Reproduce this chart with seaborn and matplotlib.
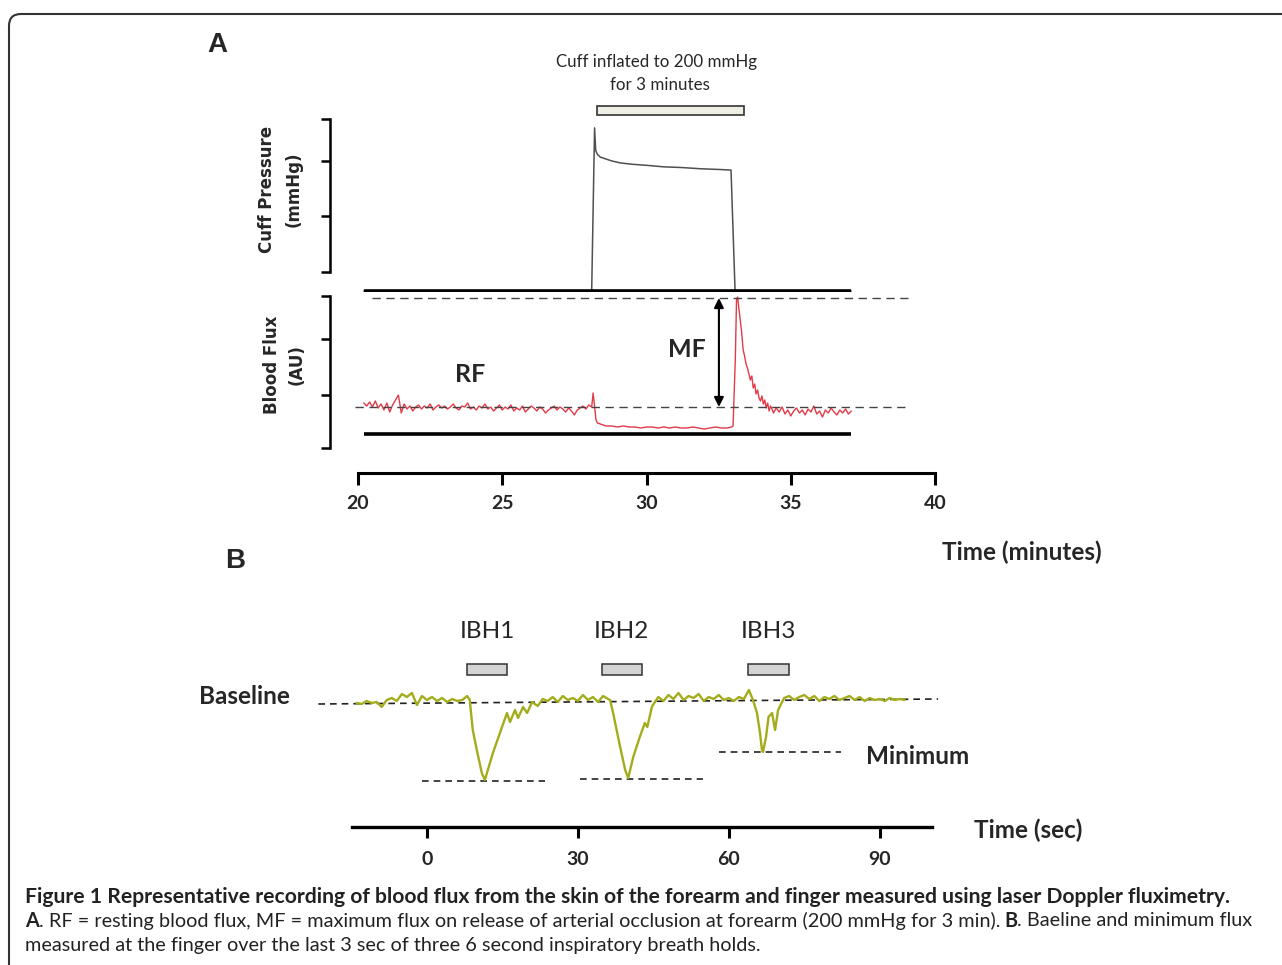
import numpy as np
import pandas as pd
import seaborn as sns
import matplotlib.pyplot as plt
from matplotlib.patches import FancyBboxPatch

# ---- panel A : cuff pressure (mmHg) ----
cuff_t = [20.2, 28.1, 28.2, 28.24, 28.3, 28.4, 28.6, 28.8, 29.1, 29.5,
          30.1, 30.6, 31.2, 31.9, 32.5, 32.93, 33.07, 37.1]
cuff_v = [0, 0, 251, 216, 210, 206, 203, 200, 197, 195,
          193, 191, 190, 188, 187, 186, 0, 0]
cuff_on, cuff_off = 28.28, 33.38

# ---- panel A : blood flux (AU) ----
rest_t = [20.2, 20.3, 20.4, 20.5, 20.6, 20.7, 20.8, 20.9, 21.0, 21.1,
          21.2, 21.3, 21.4, 21.5, 21.6, 21.7, 21.8, 21.9, 22.0, 22.1,
          22.2, 22.3, 22.4, 22.5, 22.6, 22.7, 22.8, 22.9, 23.0, 23.1,
          23.2, 23.3, 23.4, 23.5, 23.6, 23.7, 23.8, 23.9, 24.0, 24.1,
          24.2, 24.3, 24.4, 24.5, 24.6, 24.7, 24.8, 24.9, 25.0, 25.1,
          25.2, 25.3, 25.4, 25.5, 25.6, 25.7, 25.8, 25.9, 26.0, 26.1,
          26.2, 26.3, 26.4, 26.5, 26.6, 26.7, 26.8, 26.9, 27.0, 27.1,
          27.2, 27.3, 27.4, 27.5, 27.6, 27.7, 27.8, 27.9, 28.0, 28.1]
rest_v = [45, 42, 46, 41, 47, 40, 44, 38, 45, 36,
          43, 48, 53, 35, 44, 39, 42, 37, 41, 43,
          39, 42, 40, 44, 38, 41, 43, 40, 42, 39,
          41, 44, 40, 38, 42, 41, 45, 39, 41, 38,
          42, 40, 44, 39, 41, 37, 40, 43, 38, 41,
          39, 43, 37, 40, 38, 42, 36, 39, 42, 40,
          37, 41, 39, 35, 38, 40, 42, 38, 41, 39,
          36, 40, 37, 33, 38, 40, 42, 39, 43, 41]
occ_t = [28.15, 28.2, 28.25, 28.3, 28.4, 28.5, 28.6, 28.8, 29.0, 29.2,
         29.4, 29.6, 29.8, 30.0, 30.2, 30.4, 30.6, 30.8, 31.0, 31.2,
         31.4, 31.6, 31.8, 32.0, 32.2, 32.4, 32.6, 32.8, 32.95]
occ_v = [55, 42, 28, 25, 24, 23, 22, 22, 21, 22,
         21, 21, 20, 21, 21, 20, 21, 20, 21, 20,
         20, 21, 20, 19, 20, 21, 20, 20, 21]
hyp_t = [33.0, 33.08, 33.12, 33.16, 33.2, 33.25, 33.3, 33.35, 33.4, 33.45,
         33.5, 33.55, 33.6, 33.65, 33.7, 33.75, 33.8, 33.85, 33.9, 33.95,
         34.0, 34.05, 34.1, 34.15, 34.2, 34.25, 34.3, 34.35, 34.4, 34.5]
hyp_v = [22, 90, 148, 151, 140, 128, 115, 98, 92, 84,
         80, 74, 68, 72, 60, 64, 54, 58, 50, 47,
         52, 44, 48, 40, 45, 37, 42, 39, 35, 40]
rec_t = [34.6, 34.7, 34.8, 34.9, 35.0, 35.1, 35.2, 35.3, 35.4, 35.5,
         35.6, 35.7, 35.8, 35.9, 36.0, 36.1, 36.2, 36.3, 36.4, 36.5,
         36.6, 36.7, 36.8, 36.9, 37.0, 37.1]
rec_v = [36, 41, 34, 38, 32, 37, 40, 35, 38, 33,
         39, 36, 42, 34, 37, 31, 38, 35, 40, 36,
         33, 38, 35, 39, 34, 37]
rf_level, mf_level, floor_level = 41, 150, 14
rec_start, rec_end = 20.2, 37.1

# ---- panel B : finger flux (AU) ----
b_t = ([-14, -13, -12, -11, -10, -9, -8, -7, -6, -5, -4, -3, -2, -1, 0, 1, 2, 3, 4, 5, 6, 7, 8]
       + [8.5, 9.1, 9.9, 10.9, 11.5, 12.1, 13.1, 14.5, 15.9, 16.5, 17.5, 18.1, 19.1, 19.9, 20.9]
       + [22, 23, 24, 25, 26, 27, 28, 29, 30, 31, 32, 33, 34, 35, 36]
       + [36.4, 37, 37.7, 38.4, 39.4, 40, 41, 42.3, 43.3, 43.8, 44.7, 45.3]
       + [46, 47, 48, 49, 50, 51, 52, 53, 54, 55, 56, 57, 58, 59, 60, 61, 62, 63, 64]
       + [64.8, 65.6, 66.2, 66.6, 66.8, 67.4, 67.9, 68.6, 69.2, 69.8, 70.6]
       + [71, 72, 73, 74, 75, 76, 77, 78, 79, 80, 81, 82, 83, 84, 85, 86, 87, 88, 89,
          90, 91, 92, 93, 94, 95])
b_v = ([97, 96, 99, 97, 98, 93, 100, 102, 99, 106, 103, 107, 95, 104, 100, 103, 99, 102, 98, 101, 99, 100, 104]
       + [100, 70, 50, 27, 20, 30, 47, 67, 87, 78, 90, 82, 93, 87, 98]
       + [94, 101, 99, 103, 98, 104, 100, 102, 99, 105, 100, 103, 98, 104, 101]
       + [100, 87, 70, 53, 30, 22, 43, 63, 77, 73, 93, 98]
       + [103, 99, 105, 101, 107, 100, 104, 102, 106, 99, 103, 101, 105, 100, 102, 99, 103, 101, 110]
       + [100, 87, 67, 50, 48, 63, 83, 87, 70, 90, 98]
       + [102, 104, 100, 103, 105, 101, 104, 99, 103, 101, 104, 100, 102, 104, 100, 103, 99, 102, 100,
          101, 99, 102, 100, 101, 100])
baseline_t = [-21.6, 101.6]
baseline_v = [96, 101]
ibh_labels = ['IBH1', 'IBH2', 'IBH3']
ibh_start = [7.95, 34.8, 63.8]
ibh_end = [15.9, 42.7, 72.0]
min_level = [19, 21, 48]
min_start = [-1.0, 30.4, 58.0]
min_end = [23.5, 54.9, 82.3]
b_ticks = [0, 30, 60, 90]

sns.set_theme(style='white')
plt.rcParams['font.family'] = ['Lato', 'DejaVu Sans']

W, H = 1282, 965
fig = plt.figure(figsize=(W / 100, H / 100), dpi=100)


def box(x0, y0, x1, y1):
    return [x0 / W, 1 - y1 / H, (x1 - x0) / W, (y1 - y0) / H]


def ftext(x, y, s, **kw):
    kw.setdefault('ha', 'center')
    kw.setdefault('va', 'center')
    return fig.text(x / W, 1 - y / H, s, **kw)


# outer rounded frame
frame = FancyBboxPatch((9, -30), 1300, H - 14 + 30, boxstyle='round,pad=0,rounding_size=12',
                       transform=None, fill=False, edgecolor='#333333', linewidth=1.5)
fig.add_artist(frame)

xl = (20 + (330 - 358) / 28.85, 40.0)

# cuff pressure panel
ax_c = fig.add_axes(box(330, 60, 935, 292))
ax_c.set_xlim(*xl)
ax_c.set_ylim((291 - 292) / 0.65, (291 - 60) / 0.65)
sns.lineplot(x=cuff_t, y=cuff_v, ax=ax_c, color='#505050', linewidth=1.1,
             estimator=None, sort=False, legend=False)
ax_c.hlines(0, rec_start, rec_end, color='black', linewidth=2.6, zorder=4)
ax_c.barh(277.7, cuff_off - cuff_on, left=cuff_on, height=13.8,
          color='#eeeee4', edgecolor='#333333', linewidth=1.2)
for s in ['top', 'right', 'bottom']:
    ax_c.spines[s].set_visible(False)
ax_c.spines['left'].set_bounds(30, 265)
ax_c.spines['left'].set_linewidth(1.8)
ax_c.spines['left'].set_color('black')
ax_c.set_yticks([30, 115, 200, 265])
ax_c.set_xticks([])
ax_c.tick_params(axis='y', direction='out', length=6.5, width=1.8, labelleft=False, left=True, color='black')
ax_c.patch.set_alpha(0)

# blood flux panel
ax_f = fig.add_axes(box(330, 294, 935, 473))
ax_f.set_xlim(*xl)
ax_f.set_ylim(448 - 473, 448 - 294)
flux = pd.DataFrame({'t': rest_t + occ_t + hyp_t + rec_t,
                     'v': rest_v + occ_v + hyp_v + rec_v})
sns.lineplot(data=flux, x='t', y='v', ax=ax_f, color='#e23a48', linewidth=1.0,
             estimator=None, sort=False, legend=False)
ax_f.hlines(floor_level, rec_start, rec_end, color='black', linewidth=2.6, zorder=4)
ax_f.hlines(mf_level, 20.49, 39.06, colors='#444444', linestyles=(0, (6, 4)), linewidth=1)
ax_f.hlines(rf_level, 19.9, 39.13, colors='#444444', linestyles=(0, (6, 4)), linewidth=1)
ax_f.annotate('', xy=(32.51, mf_level), xytext=(32.51, rf_level),
              arrowprops=dict(arrowstyle='<|-|>', color='black', lw=1.5,
                              mutation_scale=14, shrinkA=0, shrinkB=0))
ax_f.text(31.4, 98, 'MF', ha='center', va='center', fontsize=18, fontweight='bold')
ax_f.text(23.9, 73, 'RF', ha='center', va='center', fontsize=18, fontweight='bold')
for s in ['top', 'right']:
    ax_f.spines[s].set_visible(False)
ax_f.spines['left'].set_bounds(0, 152)
ax_f.spines['bottom'].set_bounds(20, 40)
for s in ['left', 'bottom']:
    ax_f.spines[s].set_color('black')
ax_f.spines['left'].set_linewidth(1.8)
ax_f.spines['bottom'].set_linewidth(2.2)
ax_f.set_yticks([0, 53, 109, 152])
ax_f.set_xticks([20, 25, 30, 35, 40])
ax_f.tick_params(axis='y', direction='out', length=6.5, width=1.8, labelleft=False, left=True, color='black')
ax_f.tick_params(axis='x', direction='out', length=8.5, width=2.2, pad=7, labelsize=14,
                 bottom=True, color='black')
for lab in ax_f.get_xticklabels():
    lab.set_fontweight('bold')
ax_f.set_xlabel('')
ax_f.set_ylabel('')
ax_f.patch.set_alpha(0)

# panel B
ax_b = fig.add_axes(box(300, 600, 950, 827))
ax_b.set_xlim((300 - 427) / 5.03, (950 - 427) / 5.03)
ax_b.set_ylim(-27, 200)
ax_b.plot(baseline_t, baseline_v, color='#222222', linestyle=(0, (4, 3)), linewidth=1.2)
for lv, a, b in zip(min_level, min_start, min_end):
    ax_b.hlines(lv, a, b, colors='#222222', linestyles=(0, (4, 3)), linewidth=1.2)
sns.lineplot(x=b_t, y=b_v, ax=ax_b, color='#a3ad1c', linewidth=1.7,
             estimator=None, sort=False, legend=False)
ax_b.barh([130.5] * 3, np.array(ibh_end) - np.array(ibh_start), left=ibh_start, height=11,
          color='#d4d4d4', edgecolor='#333333', linewidth=1.1)
for lab, a, b in zip(ibh_labels, ibh_start, ibh_end):
    ax_b.text((a + b) / 2, 169, lab, ha='center', va='center', fontsize=17.5)
for s in ['top', 'right', 'left']:
    ax_b.spines[s].set_visible(False)
ax_b.spines['bottom'].set_bounds(-14.9, 100.4)
ax_b.spines['bottom'].set_linewidth(2.4)
ax_b.spines['bottom'].set_color('black')
ax_b.set_xticks(b_ticks)
ax_b.set_yticks([])
ax_b.tick_params(axis='x', direction='out', length=8, width=2.2, pad=9, labelsize=14,
                 bottom=True, color='black')
for lab in ax_b.get_xticklabels():
    lab.set_fontweight('bold')
ax_b.set_xlabel('')
ax_b.set_ylabel('')
ax_b.patch.set_alpha(0)

# figure texts
ftext(217, 45, 'A', fontsize=20, fontweight='bold', family='Liberation Sans')
ftext(235, 561, 'B', fontsize=20, fontweight='bold', family='Liberation Sans')
ftext(657, 62, 'Cuff inflated to 200 mmHg', fontsize=12.2)
ftext(660, 85, 'for 3 minutes', fontsize=12.2)
ftext(267, 189, 'Cuff Pressure', rotation=90, fontsize=12, fontweight='bold', family='DejaVu Sans')
ftext(294, 189, '(mmHg)', rotation=90, fontsize=12, fontweight='bold', family='DejaVu Sans')
ftext(272, 365, 'Blood Flux', rotation=90, fontsize=12, fontweight='bold', family='DejaVu Sans')
ftext(297, 365, '(AU)', rotation=90, fontsize=12, fontweight='bold', family='DejaVu Sans')
ftext(1022, 552, 'Time (minutes)', fontsize=17.5, fontweight='bold')
ftext(244, 697, 'Baseline', fontsize=17.5, fontweight='bold')
ftext(918, 757, 'Minimum', fontsize=17.5, fontweight='bold')
ftext(1028, 830, 'Time (sec)', fontsize=17.5, fontweight='bold')

# caption
renderer = fig.canvas.get_renderer()
cap_col = '#222222'
ftext(25, 897, 'Figure 1 Representative recording of blood flux from the skin of the forearm and '
      'finger measured using laser Doppler fluximetry.', ha='left', fontsize=15.2,
      fontweight='bold', color=cap_col)
pieces = [('A', 'bold'),
          ('. RF = resting blood flux, MF = maximum flux on release of arterial occlusion at forearm '
           '(200 mmHg for 3 min).', 'normal'),
          ('B', 'bold'),
          ('. Baeline and minimum flux', 'normal')]
x = 25
for i, (s, wgt) in enumerate(pieces):
    t = ftext(x, 921, s, ha='left', fontsize=14.3, fontweight=wgt, color=cap_col)
    x += t.get_window_extent(renderer).width
    if i == 1:
        x += 4
ftext(25, 946, 'measured at the finger over the last 3 sec of three 6 second inspiratory breath holds.',
      ha='left', fontsize=14.3, color=cap_col)

fig.savefig('out.png', dpi=100)
